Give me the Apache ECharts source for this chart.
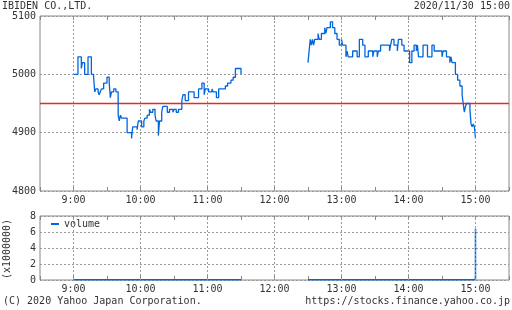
<!DOCTYPE html>
<html><head><meta charset="utf-8">
<script src="https://cdn.jsdelivr.net/npm/echarts@6/dist/echarts.min.js"></script>
<style>html,body{margin:0;padding:0;background:#fff}#c{width:512px;height:310px}</style>
</head><body><div id="c"></div>
<script>
const titleText = 'IBIDEN CO.,LTD.';
const stampText = '2020/11/30 15:00';
const footLeft = '(C) 2020 Yahoo Japan Corporation.';
const footRight = 'https://stocks.finance.yahoo.co.jp';
const volName = '(x1000000)';
const prevClose = 4950;

const amTimes = ['9:00','9:04','9:07','9:08','9:10','9:13','9:16','9:18','9:19','9:20','9:22','9:23','9:24','9:25','9:27','9:30','9:32','9:33','9:34','9:36','9:38','9:40','9:41','9:42','9:43','9:48','9:52','9:53','9:57','9:58','10:01','10:03','10:04','10:06','10:08','10:09','10:11','10:13','10:14','10:16','10:17','10:19','10:20','10:24','10:26','10:29','10:30','10:32','10:34','10:37','10:38','10:40','10:43','10:48','10:52','10:55','10:57','10:58','11:01','11:04','11:05','11:08','11:10','11:16','11:18','11:21','11:23','11:25','11:30'];
const amPrices = [5000,5030,5010,5020,5000,5030,5000,4995,4970,4975,4970,4965,4970,4975,4985,4995,4985,4960,4970,4975,4970,4930,4920,4930,4925,4900,4890,4910,4905,4920,4910,4920,4925,4930,4940,4935,4940,4930,4920,4895,4920,4935,4945,4935,4940,4935,4940,4935,4940,4955,4965,4955,4970,4960,4975,4985,4965,4975,4970,4975,4970,4960,4975,4980,4985,4990,4995,5010,5000];

const pmTimes = ['12:30','12:31','12:32','12:33','12:34','12:35','12:36','12:39','12:40','12:42','12:45','12:46','12:47','12:50','12:52','12:54','12:56','12:58','13:00','13:01','13:04','13:05','13:06','13:10','13:14','13:16','13:19','13:21','13:24','13:28','13:29','13:32','13:33','13:35','13:43','13:44','13:45','13:47','13:50','13:51','13:54','13:56','14:01','14:03','14:05','14:07','14:08','14:09','14:13','14:17','14:21','14:23','14:30','14:31','14:34','14:37','14:38','14:39','14:42','14:44','14:46','14:48','14:49','14:50','14:51','14:52','14:55','14:56','14:57','14:58','14:59','15:00'];
const pmPrices = [5020,5040,5060,5050,5060,5050,5060,5070,5060,5070,5080,5070,5080,5090,5080,5070,5060,5050,5060,5050,5030,5040,5030,5040,5030,5060,5050,5030,5040,5030,5040,5030,5040,5050,5040,5050,5060,5050,5040,5060,5050,5040,5020,5040,5050,5040,5050,5030,5050,5030,5050,5040,5030,5040,5030,5020,5030,5020,5000,4990,4980,4965,4950,4935,4945,4950,4940,4915,4910,4915,4910,4890];

const volAmTimes = ['9:00','9:30','10:00','10:30','11:00','11:30'];
const volAmValues = [0.03,0.03,0.02,0.02,0.02,0.02];
const volPmTimes = ['12:30','13:00','13:30','14:00','14:30','14:58','15:00'];
const volPmValues = [0.03,0.02,0.02,0.02,0.03,0.1,6.4];

const hourLabels = ['9:00','10:00','11:00','12:00','13:00','14:00','15:00'];
const priceTicks = [4800,4900,5000,5100];
const volTicks = [0,2,4,6,8];
const xRange = ['8:30','15:30'];

const toMin = s => { const p = s.split(':').map(Number); return p[0]*60 + p[1]; };
const pairs = (t, v) => t.map((s, i) => [toMin(s), v[i]]);

const FONT = '"DejaVu Sans Mono", monospace';
const BLUE = '#0066dd';
const RED = 'rgb(230,40,40)';
const GRID = '#999';
const FRAME = '#888';
const TXT = '#333';
const hourMins = hourLabels.map(toMin);
const xMin = toMin(xRange[0]), xMax = toMin(xRange[1]);

function xAx(gridIndex, position, labels) {
  return {
    type: 'value', gridIndex, position, min: xMin, max: xMax, interval: 30,
    axisLine: {show: false},
    axisTick: {show: true, inside: true, length: 4, lineStyle: {color: FRAME}},
    splitLine: {show: false},
    axisLabel: {show: labels, margin: 4, fontFamily: FONT, fontSize: 10, color: TXT,
      formatter: v => { const i = hourMins.indexOf(v); return i >= 0 ? hourLabels[i] : ''; }}
  };
}
function yAx(gridIndex, ticks) {
  return {
    type: 'value', gridIndex, min: ticks[0], max: ticks[ticks.length-1], interval: ticks[1]-ticks[0],
    axisLine: {show: false}, axisTick: {show: false},
    splitLine: {show: true, lineStyle: {color: GRID, type: [2,2], width: 1}},
    axisLabel: {margin: 4, fontFamily: FONT, fontSize: 10, color: TXT, formatter: v => String(v)}
  };
}
const hourLines = () => ({
  silent: true, symbol: 'none', animation: false, label: {show: false},
  lineStyle: {color: GRID, type: [2,2], width: 1},
  data: hourMins.map(v => ({xAxis: v}))
});

const chart = echarts.init(document.getElementById('c'), null, {renderer: 'canvas'});
chart.setOption({
  animation: false,
  grid: [
    {left: 40, right: 1, top: 16, height: 175, show: true, borderColor: FRAME, borderWidth: 1},
    {left: 40, right: 1, top: 216, height: 64, show: true, borderColor: FRAME, borderWidth: 1}
  ],
  xAxis: [xAx(0,'bottom',true), xAx(0,'top',false), xAx(1,'bottom',true), xAx(1,'top',false)],
  yAxis: [yAx(0, priceTicks), yAx(1, volTicks)],
  legend: {data: [{name: 'volume', icon: 'rect'}], left: 46, top: 214, itemWidth: 8, itemHeight: 2,
    itemGap: 5, selectedMode: false, textStyle: {fontFamily: FONT, fontSize: 10, color: TXT}},
  graphic: [
    {type: 'text', left: 2, top: 1, style: {text: titleText, font: '10px ' + FONT, fill: TXT}},
    {type: 'text', right: 2, top: 1, style: {text: stampText, font: '10px ' + FONT, fill: TXT}},
    {type: 'text', left: 3, top: 296, style: {text: footLeft, font: '10px ' + FONT, fill: TXT}},
    {type: 'text', right: 2, top: 296, style: {text: footRight, font: '10px ' + FONT, fill: TXT}},
    {type: 'text', x: 7, y: 249, rotation: Math.PI/2, style: {text: volName, font: '10px ' + FONT, fill: TXT, align: 'center', verticalAlign: 'middle'}}
  ],
  series: [
    {type: 'line', xAxisIndex: 0, yAxisIndex: 0, data: [], z: 1, color: GRID, markLine: hourLines()},
    {type: 'line', xAxisIndex: 2, yAxisIndex: 1, data: [], z: 1, color: GRID, markLine: hourLines()},
    {name: 'prevClose', type: 'line', xAxisIndex: 0, yAxisIndex: 0, z: 2, showSymbol: false, silent: true,
      data: [[xMin, prevClose], [xMax, prevClose]], color: RED,
      lineStyle: {color: RED, width: 1.4, type: 'solid'}},
    {name: 'price', type: 'line', step: 'end', xAxisIndex: 0, yAxisIndex: 0, data: pairs(amTimes, amPrices),
      showSymbol: false, color: BLUE, lineStyle: {color: BLUE, width: 1.3}, z: 3},
    {name: 'price', type: 'line', step: 'end', xAxisIndex: 0, yAxisIndex: 0, data: pairs(pmTimes, pmPrices),
      showSymbol: false, color: BLUE, lineStyle: {color: BLUE, width: 1.3}, z: 3},
    {name: 'volume', type: 'line', step: 'end', xAxisIndex: 2, yAxisIndex: 1, data: pairs(volAmTimes, volAmValues),
      showSymbol: false, color: BLUE, lineStyle: {color: BLUE, width: 1.5}, z: 3},
    {name: 'volume', type: 'line', step: 'end', xAxisIndex: 2, yAxisIndex: 1, data: pairs(volPmTimes, volPmValues),
      showSymbol: false, color: BLUE, lineStyle: {color: BLUE, width: 1.5}, z: 3}
  ]
});
</script></body></html>
